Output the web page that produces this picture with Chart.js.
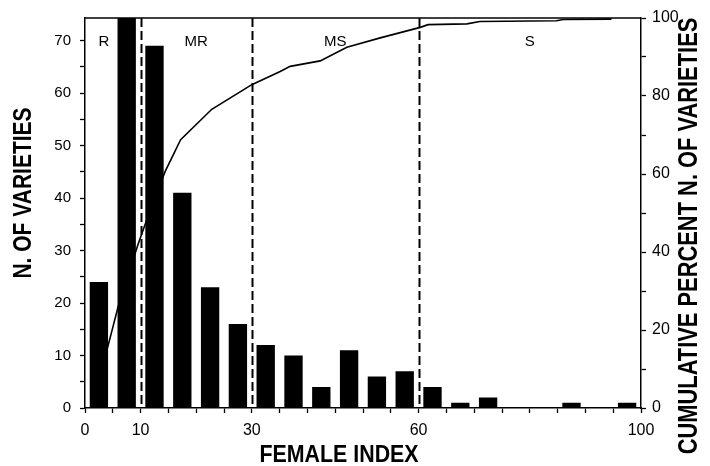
<!DOCTYPE html>
<html>
<head>
<meta charset="utf-8">
<script src="https://cdn.jsdelivr.net/npm/chart.js@4.4.1/dist/chart.umd.min.js"></script>
<style>
  html, body { margin: 0; padding: 0; background: #ffffff; }
  #wrap { width: 710px; height: 466px; }
</style>
</head>
<body>
<div id="wrap"><canvas id="femaleChart"></canvas></div>
<script>
// Female index classes, 5 units wide, and the number of varieties in each
const binCenters = [2.5, 7.5, 12.5, 17.5, 22.5, 27.5, 32.5, 37.5, 42.5, 47.5,
  52.5, 57.5, 62.5, 67.5, 72.5, 77.5, 82.5, 87.5, 92.5, 97.5];
const varietyCounts = [24, 143, 69, 41, 23, 16, 12, 10, 4, 11,
  6, 7, 4, 1, 2, 0, 0, 1, 0, 1];

// Cumulative percent of varieties along the female index
const cumIndex = [2.5, 4.7, 6.0, 9.5, 11.0, 14.4, 17.2, 22.8, 30.0, 35.1, 36.9,
  42.3, 47.1, 53.1, 57.9, 60.3, 61.7, 68.7, 71.0, 84.8, 86.0, 94.7];
const cumPercent = [7, 19.0, 26.2, 41.8, 47.8, 60.6, 68.8, 76.6, 82.9, 86.3, 87.6,
  89.0, 92.5, 94.9, 96.7, 97.6, 98.3, 98.5, 99.1, 99.3, 99.6, 99.7];

// Resistance classes: boundaries and their labels
const classBounds = [10, 30, 60];
const classNames = ["R", "MR", "MS", "S"];
const classLabelX = [3.4, 20, 45, 80];

// Axis tick labels
const xTickLabels = [0, 10, 30, 60, 100];

const FONT = "'Liberation Sans', Arial, sans-serif";
Chart.defaults.font.family = FONT;
Chart.defaults.color = "#000000";

// Dashed class boundaries, top frame line, class names and axis titles
const decorations = {
  id: "decorations",
  afterDatasetsDraw(chart) {
    const { ctx, chartArea, scales } = chart;
    const { x, y2 } = scales;
    ctx.save();

    // top frame line
    ctx.strokeStyle = "#000";
    ctx.lineWidth = 1.5;
    ctx.beginPath();
    ctx.moveTo(chartArea.left, chartArea.top);
    ctx.lineTo(chartArea.right, chartArea.top);
    ctx.stroke();

    // class boundaries
    ctx.lineWidth = 2;
    ctx.setLineDash([9, 4]);
    classBounds.forEach((b) => {
      const px = Math.round(x.getPixelForValue(b)) + 0.5;
      ctx.beginPath();
      ctx.moveTo(px, chartArea.top);
      ctx.lineTo(px, chartArea.bottom);
      ctx.stroke();
    });
    ctx.setLineDash([]);

    // class names
    ctx.fillStyle = "#000";
    ctx.font = "15px " + FONT;
    ctx.textAlign = "center";
    ctx.textBaseline = "middle";
    classNames.forEach((name, i) => {
      ctx.fillText(name, x.getPixelForValue(classLabelX[i]), y2.getPixelForValue(94));
    });

    // axis titles, drawn in a condensed bold face
    const title = (text, cx, cy, angle, size, squeeze) => {
      ctx.save();
      ctx.translate(cx, cy);
      ctx.rotate(angle);
      ctx.scale(squeeze, 1);
      ctx.font = "bold " + size + "px " + FONT;
      ctx.textAlign = "center";
      ctx.textBaseline = "middle";
      ctx.fillText(text, 0, 0);
      ctx.restore();
    };
    title("FEMALE INDEX", 339, 456, 0, 23, 0.93);
    title("N. OF VARIETIES", 24, 193, -Math.PI / 2, 25, 0.84);
    title("CUMULATIVE PERCENT N. OF VARIETIES", 690, 236, -Math.PI / 2, 27, 0.81);

    ctx.restore();
  },
};

const tickGrid = {
  drawOnChartArea: false,
  drawTicks: true,
  tickLength: 5,
  tickWidth: 1.3,
  tickColor: "#000",
  offset: false,
};

new Chart(document.getElementById("femaleChart"), {
  type: "bar",
  data: {
    datasets: [
      {
        label: "N. of varieties",
        data: binCenters.map((c, i) => ({ x: c, y: varietyCounts[i] })),
        backgroundColor: "#000000",
        borderWidth: 0,
        barPercentage: 0.66,
        categoryPercentage: 1,
        yAxisID: "y",
        order: 0,
      },
      {
        type: "line",
        label: "Cumulative percent",
        data: cumIndex.map((c, i) => ({ x: c, y: cumPercent[i] })),
        borderColor: "#000000",
        borderWidth: 1.6,
        pointRadius: 0,
        tension: 0,
        fill: false,
        yAxisID: "y2",
        order: 1,
      },
    ],
  },
  options: {
    responsive: true,
    maintainAspectRatio: false,
    animation: false,
    devicePixelRatio: 1,
    layout: { padding: { top: 18, left: 0, right: 0, bottom: 0 } },
    plugins: {
      legend: { display: false },
      tooltip: { enabled: false },
    },
    scales: {
      x: {
        type: "linear",
        min: 0,
        max: 100,
        offset: false,
        grid: tickGrid,
        border: { display: true, color: "#000", width: 1.5 },
        ticks: {
          stepSize: 5,
          autoSkip: false,
          maxRotation: 0,
          padding: 8,
          font: { size: 16 },
          callback: (v) => (xTickLabels.includes(v) ? String(v) : ""),
        },
        afterFit: (s) => { s.height = 58; },
      },
      y: {
        position: "left",
        min: 0,
        max: 74.3,
        grid: tickGrid,
        border: { display: true, color: "#000", width: 1.5 },
        ticks: {
          stepSize: 5,
          includeBounds: false,
          padding: 9,
          font: { size: 15 },
          callback: (v) => (v % 10 === 0 ? String(v) : ""),
        },
        afterFit: (s) => { s.width = 85; },
      },
      y2: {
        position: "right",
        min: 0,
        max: 100,
        grid: tickGrid,
        border: { display: true, color: "#000", width: 1.5 },
        ticks: {
          stepSize: 10,
          padding: 6,
          font: { size: 16 },
          callback: (v) => (v % 20 === 0 ? String(v) : ""),
        },
        afterFit: (s) => { s.width = 69; },
      },
    },
  },
  plugins: [decorations],
});
</script>
</body>
</html>
